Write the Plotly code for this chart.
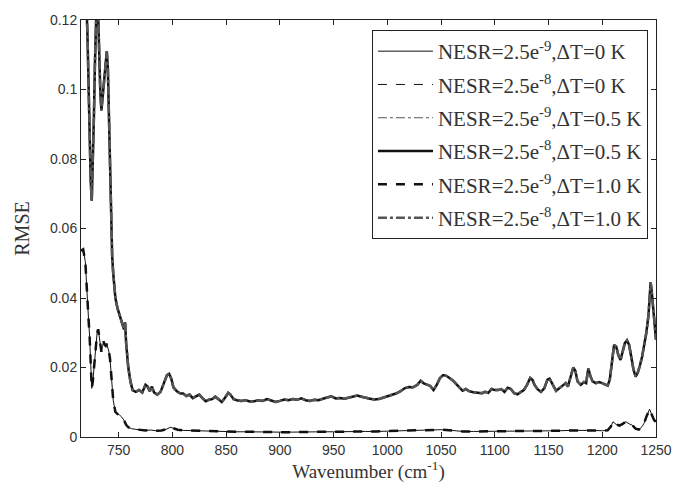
import plotly.graph_objects as go

# Wavenumber grid and RMSE values for the upper cluster (ΔT = 0.5 / 1.0 K curves overlap)
wn_upper = [715, 718, 720, 721, 722, 723, 724, 725, 726, 727, 728, 729, 730, 731, 732, 733, 734, 735, 736, 737,
            738, 739, 740, 741, 742, 743, 744, 745, 747, 749, 751, 753, 755, 756, 757, 759, 761, 763, 766, 769,
            772, 775, 777, 779, 781, 783, 786, 789, 792, 795, 797, 799, 801, 804, 807, 810, 813, 816, 819, 822,
            825, 828, 831, 834, 837, 840, 843, 846, 849, 852, 854, 857, 860, 864, 868, 872, 876, 880, 884, 888,
            892, 896, 900, 904, 908, 912, 916, 920, 924, 928, 932, 936, 940, 944, 948, 952, 956, 960, 964, 968,
            972, 976, 980, 984, 988, 992, 996, 1000, 1004, 1008, 1012, 1016, 1020, 1024, 1028, 1031, 1034, 1037, 1040, 1043,
            1046, 1049, 1052, 1055, 1058, 1061, 1064, 1067, 1070, 1073, 1076, 1080, 1084, 1088, 1091, 1094, 1097, 1100, 1103, 1106,
            1109, 1112, 1115, 1118, 1121, 1124, 1127, 1130, 1133, 1135, 1137, 1140, 1143, 1146, 1149, 1151, 1154, 1157, 1160, 1163,
            1166, 1168, 1170, 1173, 1175, 1177, 1180, 1183, 1185, 1187, 1189, 1191, 1194, 1197, 1200, 1203, 1205, 1207, 1209, 1211,
            1213, 1215, 1217, 1219, 1221, 1223, 1225, 1227, 1229, 1231, 1233, 1235, 1237, 1239, 1241, 1243, 1244, 1245, 1246, 1247,
            1248, 1249, 1250]
rmse_upper = [0.150, 0.135, 0.125, 0.116, 0.100, 0.086, 0.074, 0.068, 0.078, 0.092, 0.108, 0.122, 0.130, 0.121, 0.109, 0.099, 0.094, 0.097, 0.101, 0.104,
              0.108, 0.111, 0.106, 0.092, 0.076, 0.064, 0.052, 0.047, 0.040, 0.037, 0.035, 0.033, 0.031, 0.033, 0.027, 0.020, 0.016, 0.0135, 0.013, 0.0135,
              0.0128, 0.015, 0.0145, 0.0132, 0.0145, 0.0128, 0.0122, 0.013, 0.0155, 0.0178, 0.0182, 0.0168, 0.0143, 0.0132, 0.0126, 0.0125, 0.0118, 0.0122, 0.0112, 0.0116,
              0.0122, 0.0112, 0.0103, 0.0107, 0.0109, 0.0116, 0.0108, 0.0101, 0.0113, 0.0127, 0.0122, 0.0109, 0.0106, 0.0104, 0.0106, 0.0102, 0.0103, 0.0106, 0.0104, 0.0109,
              0.0105, 0.0101, 0.0104, 0.0108, 0.0106, 0.0109, 0.0107, 0.0111, 0.0106, 0.0104, 0.0107, 0.0106, 0.0110, 0.0114, 0.0117, 0.0111, 0.0112, 0.0110, 0.0113, 0.0115,
              0.0119, 0.0116, 0.0112, 0.0110, 0.0108, 0.0109, 0.0113, 0.0117, 0.0120, 0.0125, 0.0131, 0.0140, 0.0144, 0.0143, 0.0150, 0.0162, 0.0154, 0.0150, 0.0147, 0.0135,
              0.0150, 0.0170, 0.0178, 0.0176, 0.0170, 0.0163, 0.0153, 0.0143, 0.0133, 0.0138, 0.0132, 0.0129, 0.0127, 0.0126, 0.0130, 0.0127, 0.0138, 0.0135, 0.0135, 0.0138,
              0.0130, 0.0142, 0.0138, 0.0126, 0.0123, 0.0130, 0.0135, 0.0150, 0.0170, 0.0165, 0.0150, 0.0137, 0.0130, 0.0140, 0.0165, 0.0168, 0.0150, 0.0133, 0.0140, 0.0148,
              0.0155, 0.0145, 0.0165, 0.0200, 0.0190, 0.0160, 0.0150, 0.0158, 0.0155, 0.0197, 0.0175, 0.0160, 0.0155, 0.0158, 0.0155, 0.0150, 0.0148, 0.0165, 0.0210, 0.0265,
              0.0260, 0.0235, 0.0222, 0.0245, 0.0270, 0.0278, 0.0265, 0.0230, 0.0195, 0.0174, 0.0185, 0.0205, 0.0230, 0.0265, 0.0300, 0.0350, 0.0410, 0.0445, 0.0420, 0.0380,
              0.0360, 0.0310, 0.0280]

# Lower cluster (ΔT = 0 K curves overlap)
wn_lower = [715, 717, 719, 720, 721, 722, 723, 724, 725, 726, 727, 728, 729, 730, 731, 732, 733, 734, 735, 736,
            737, 738, 739, 740, 741, 742, 743, 744, 745, 747, 749, 751, 753, 755, 757, 759, 762, 766, 770, 775,
            780, 785, 790, 795, 798, 801, 805, 810, 820, 830, 840, 850, 860, 870, 880, 890, 900, 910, 920, 930,
            940, 950, 960, 970, 980, 990, 1000, 1010, 1020, 1030, 1040, 1050, 1060, 1070, 1080, 1090, 1100, 1110, 1120, 1130,
            1140, 1150, 1160, 1170, 1180, 1190, 1200, 1205, 1208, 1210, 1213, 1216, 1219, 1222, 1225, 1228, 1231, 1234, 1237, 1239,
            1241, 1244, 1246, 1248, 1250]
rmse_lower = [0.0536, 0.0540, 0.0505, 0.0460, 0.0400, 0.0340, 0.0290, 0.0200, 0.0140, 0.0160, 0.0200, 0.0230, 0.0270, 0.0300, 0.0310, 0.0290, 0.0270, 0.0245, 0.0260, 0.0275,
              0.0265, 0.0262, 0.0268, 0.0258, 0.0245, 0.0225, 0.0175, 0.0130, 0.0105, 0.0072, 0.0066, 0.0063, 0.0057, 0.0048, 0.0035, 0.0028, 0.0024, 0.0022, 0.0021, 0.0019,
              0.0020, 0.0018, 0.0019, 0.0023, 0.0028, 0.0025, 0.0021, 0.0019, 0.0018, 0.0016, 0.0016, 0.0015, 0.0015, 0.0015, 0.0014, 0.0013, 0.0014, 0.0014, 0.0015, 0.0015,
              0.0015, 0.0015, 0.0016, 0.0016, 0.0016, 0.0016, 0.0017, 0.0017, 0.0019, 0.0020, 0.0019, 0.0021, 0.0019, 0.0016, 0.0016, 0.0016, 0.0016, 0.0016, 0.0016, 0.0017,
              0.0018, 0.0017, 0.0018, 0.0019, 0.0020, 0.0019, 0.0018, 0.0019, 0.0030, 0.0044, 0.0036, 0.0033, 0.0038, 0.0044, 0.0038, 0.0034, 0.0024, 0.0021, 0.0030, 0.0040,
              0.0058, 0.0080, 0.0065, 0.0050, 0.0042]

series_names = [
    "NESR=2.5e<sup>-9</sup>,ΔT=0 K",
    "NESR=2.5e<sup>-8</sup>,ΔT=0 K",
    "NESR=2.5e<sup>-9</sup>,ΔT=0.5 K",
    "NESR=2.5e<sup>-8</sup>,ΔT=0.5 K",
    "NESR=2.5e<sup>-9</sup>,ΔT=1.0 K",
    "NESR=2.5e<sup>-8</sup>,ΔT=1.0 K",
]
series_x = [wn_lower, wn_lower, wn_upper, wn_upper, wn_lower, wn_upper]
series_y = [rmse_lower, rmse_lower, rmse_upper, rmse_upper, rmse_lower, rmse_upper]
series_style = [
    dict(color="#111111", width=1, dash="solid"),
    dict(color="#111111", width=1, dash="dash"),
    dict(color="#555555", width=1, dash="dashdot"),
    dict(color="#111111", width=2.5, dash="solid"),
    dict(color="#111111", width=2.5, dash="dash"),
    dict(color="#555555", width=2.5, dash="dashdot"),
]

SERIF = "Liberation Serif, Times New Roman, serif"
SANS = "Liberation Sans, Arial, sans-serif"

fig = go.Figure()
for i, (name, xs, ys, st) in enumerate(zip(series_names, series_x, series_y, series_style)):
    fig.add_trace(go.Scatter(x=xs, y=ys, mode="lines", name=name, line=st,
                             legendgroup=f"g{i}"))

axis_common = dict(
    showline=True, linecolor="#222222", linewidth=1, mirror="ticks",
    ticks="inside", ticklen=5, tickcolor="#222222",
    showgrid=False, zeroline=False,
    tickfont=dict(family=SANS, size=14, color="#333333"),
)
fig.update_xaxes(range=[715, 1250], tickmode="array",
                 tickvals=[750, 800, 850, 900, 950, 1000, 1050, 1100, 1150, 1200, 1250],
                 title=dict(text="Wavenumber (cm<sup>-1</sup>)", font=dict(family=SERIF, size=19, color="#333333"),
                            standoff=6),
                 **axis_common)
fig.update_yaxes(range=[0, 0.12], dtick=0.02,
                 title=dict(text="RMSE", font=dict(family=SERIF, size=20, color="#333333"), standoff=14),
                 **axis_common)

fig.update_layout(
    width=687, height=490,
    margin=dict(l=81, r=31, t=18, b=53),
    paper_bgcolor="white", plot_bgcolor="white",
    showlegend=True,
    legend=dict(x=0.986, y=0.976, xanchor="right", yanchor="top",
                bgcolor="white", bordercolor="#222222", borderwidth=1,
                font=dict(family=SERIF, size=21, color="#333333"),
                tracegroupgap=3, itemwidth=55),
)

fig.write_html("out.html")
